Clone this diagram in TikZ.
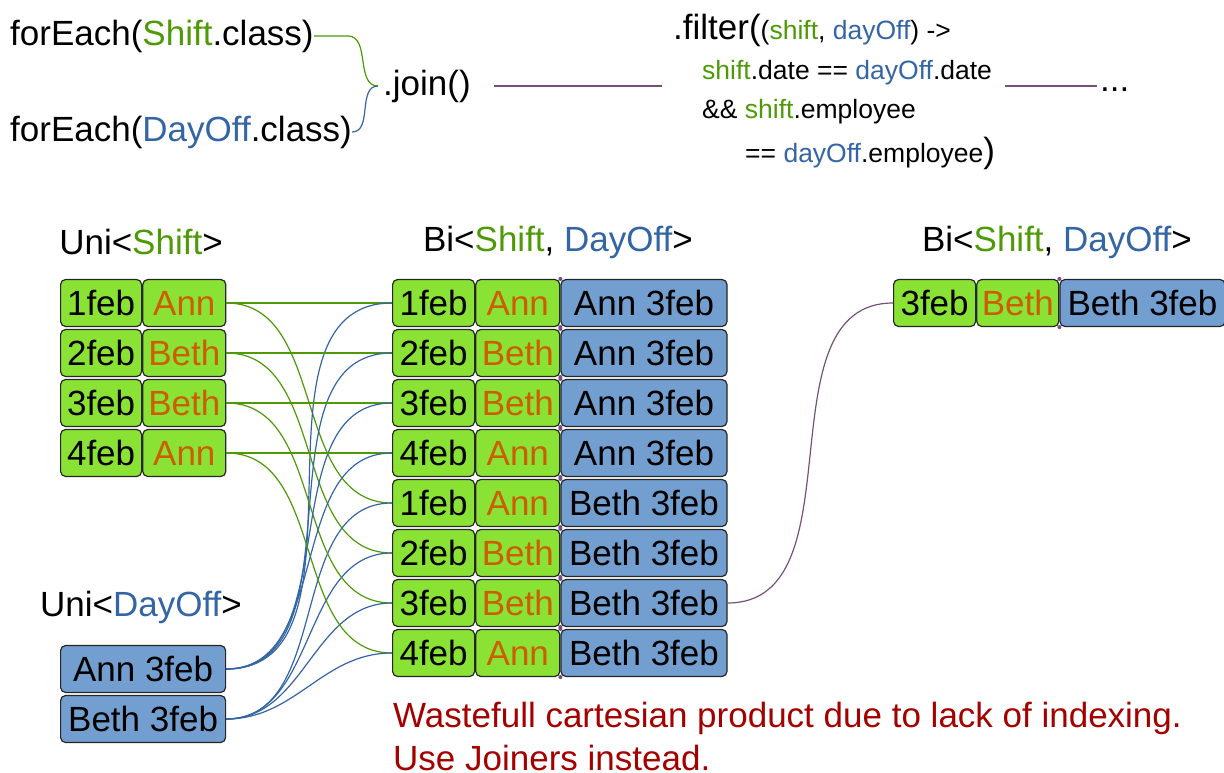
\documentclass[tikz,border=0pt]{standalone}
\usepackage{fontspec}
\setmainfont{Liberation Sans}
\usepackage{tikz}
\usetikzlibrary{positioning}
\definecolor{cellgreen}{HTML}{8AE234}
\definecolor{cellblue}{HTML}{729FCF}
\definecolor{nameorange}{HTML}{CE5C00}
\definecolor{shiftgreen}{HTML}{4E9A06}
\definecolor{dayblue}{HTML}{3465A4}
\definecolor{plum}{HTML}{75507B}
\definecolor{noteRed}{HTML}{A40000}
\tikzset{
  bigtxt/.style    = {inner sep=0pt,font=\fontsize{35}{43}\selectfont},
  smalltxt/.style  = {inner sep=0pt,font=\fontsize{26.5}{39.5}\selectfont},
  cell/.style      = {bigtxt,draw=black!85,line width=1.2pt,rounded corners=5pt,minimum height=47pt},
  shiftcell/.style = {cell,fill=cellgreen,minimum width=82pt},
  daycell/.style   = {cell,fill=cellblue,minimum width=166pt},
  shiftlink/.style = {draw=shiftgreen,line width=1.2pt},
  daylink/.style   = {draw=dayblue,line width=1.2pt},
  joinlink/.style  = {draw=plum,line width=1.2pt}
}

\begin{document}
\begin{tikzpicture}[x=1pt,y=-1pt]
  \useasboundingbox (0,0) rectangle (1224,773);
  \node[bigtxt,anchor=west] (fshift) at (10,36) {forEach(\textcolor{shiftgreen}{Shift}.class)};
  \node[bigtxt,anchor=west] (fday) at (10,132) {forEach(\textcolor{dayblue}{DayOff}.class)};
  \node[bigtxt,anchor=west] (join) at (383,86) {.join()};
  \node[smalltxt,anchor=west,align=left] (filter) at (673,92)
    {{\fontsize{35}{40}\selectfont .filter(}(\textcolor{shiftgreen}{shift}, \textcolor{dayblue}{dayOff}) ->\\
     \hspace*{29pt}\textcolor{shiftgreen}{shift}.date == \textcolor{dayblue}{dayOff}.date\\
     \hspace*{29pt}\&\& \textcolor{shiftgreen}{shift}.employee\\[4pt]
     \hspace*{72pt}== \textcolor{dayblue}{dayOff}.employee{\fontsize{35}{40}\selectfont )}};
  \node[bigtxt,anchor=west] (more) at (1100,90) {...};
  \draw[shiftlink] (fshift.east) -- ++(34,0) to[out=0,in=180] ([xshift=-5pt]join.west);
  \draw[daylink] (fday.east) to[out=0,in=180] ([xshift=-5pt]join.west);
  \draw[joinlink,shorten <=23pt,shorten >=11pt] (join.east) -- (join.east -| filter.west);
  \draw[joinlink,shorten <=10pt,shorten >=3pt] (join.east -| filter.east) -- (join.east -| more.west);

  \node[bigtxt] (lshift) at (141,242) {Uni<\textcolor{shiftgreen}{Shift}>};
  \node[bigtxt] (lbi) at (558,242) {Bi<\textcolor{shiftgreen}{Shift}, \textcolor{dayblue}{DayOff}>};
  \node[bigtxt] (lres) at (1057,242) {Bi<\textcolor{shiftgreen}{Shift}, \textcolor{dayblue}{DayOff}>};
  \node[bigtxt,anchor=west] (lday) at (40,607) {Uni<\textcolor{dayblue}{DayOff}>};

  \foreach \d/\n [count=\i] in {1feb/Ann,2feb/Beth,3feb/Beth,4feb/Ann} {
    \node[shiftcell,minimum width=81pt,anchor=west] (ud\i) at (60,253+50*\i) {\d};
    \node[shiftcell,minimum width=83pt,right=0pt of ud\i,text=nameorange] (un\i) {\n};
  }
  \foreach \d/\n/\o [count=\i] in {1feb/Ann/Ann,2feb/Beth/Ann,3feb/Beth/Ann,4feb/Ann/Ann,
                                   1feb/Ann/Beth,2feb/Beth/Beth,3feb/Beth/Beth,4feb/Ann/Beth} {
    \node[shiftcell,anchor=west] (bd\i) at (392,253+50*\i) {\d};
    \node[shiftcell,minimum width=84pt,right=0pt of bd\i,text=nameorange] (bn\i) {\n};
    \node[daycell,right=0pt of bn\i] (bo\i) {\o{} 3feb};
    \fill[plum] (bn\i.north east) circle (2pt) (bn\i.south east) circle (2pt);
  }
  \node[daycell,minimum width=165pt,anchor=west] (da) at (60,669) {Ann 3feb};
  \node[daycell,minimum width=165pt,anchor=west] (db) at (60,719) {Beth 3feb};

  \node[shiftcell,anchor=west] (rd) at (893,303) {3feb};
  \node[shiftcell,right=0pt of rd,text=nameorange] (rn) {Beth};
  \node[daycell,minimum width=165pt,right=0pt of rn] (ro) {Beth 3feb};
  \fill[plum] (rn.north east) circle (2pt) (rn.south east) circle (2pt);

  \foreach \i in {1,...,4} {
    \pgfmathtruncatemacro\j{\i+4}
    \draw[shiftlink] (un\i.east) to[out=0,in=180] (bd\i.west);
    \draw[shiftlink] (un\i.east) to[out=0,in=180] (bd\j.west);
    \draw[daylink] (da.east) to[out=0,in=180] (bd\i.west);
    \draw[daylink] (db.east) to[out=0,in=180] (bd\j.west);
  }
  \draw[joinlink] (bo7.east) to[out=0,in=180] (rd.west);

  \node[bigtxt,anchor=west,align=left,text=noteRed] (note) at (393,736)
    {Wastefull cartesian product due to lack of indexing.\\Use Joiners instead.};
\end{tikzpicture}
\end{document}
